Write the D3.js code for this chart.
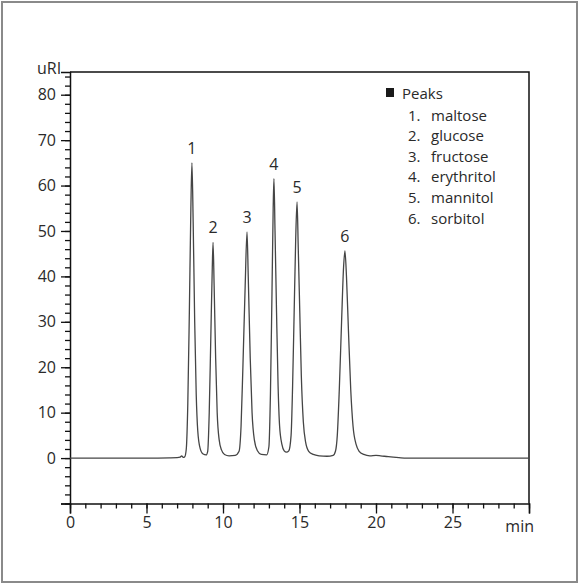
<!DOCTYPE html>
<html>
<head>
<meta charset="utf-8">
<script src="https://cdn.jsdelivr.net/npm/d3@7"></script>
<style>
  body { margin: 0; background: #fff; }
  svg text { font-family: "Open Sans", "Noto Sans", sans-serif; fill: #2a2a2a; }
</style>
</head>
<body>
<div id="chart"></div>
<script>
// trace: [time (min), signal (uRI)]
var trace = [
  [0, 0], [5, 0], [6.5, 0.05], [7.0, 0.1], [7.2, 0.2], [7.3, 0.5], [7.4, 0.15],
  [7.5, 0.3], [7.6, 2], [7.7, 12], [7.8, 32], [7.9, 55], [7.97, 65],
  [8.05, 52], [8.15, 30], [8.25, 14], [8.35, 6], [8.5, 2.2], [8.7, 0.9], [8.9, 0.7],
  [9.0, 1.5], [9.1, 10], [9.2, 26], [9.3, 42], [9.35, 47.5],
  [9.42, 38], [9.52, 22], [9.62, 10], [9.75, 4], [9.9, 1.8], [10.1, 0.8], [10.4, 0.5], [10.8, 0.6],
  [11.05, 1.5], [11.18, 7], [11.3, 20], [11.45, 38], [11.57, 49.8],
  [11.65, 40], [11.78, 22], [11.9, 10], [12.05, 4], [12.25, 1.6], [12.5, 0.8], [12.85, 0.7],
  [13.0, 2.5], [13.1, 14], [13.2, 36], [13.28, 55], [13.33, 61.5],
  [13.4, 50], [13.5, 32], [13.6, 16], [13.7, 7], [13.85, 3], [14.0, 1.6], [14.15, 1.3],
  [14.3, 1.6], [14.45, 5], [14.55, 16], [14.65, 32], [14.75, 48], [14.84, 56.4],
  [14.92, 46], [15.02, 32], [15.12, 18], [15.25, 8], [15.4, 3.5], [15.6, 1.5], [15.9, 0.8],
  [16.3, 0.5], [16.8, 0.4], [17.2, 0.6],
  [17.35, 1.5], [17.47, 5], [17.6, 15], [17.75, 30], [17.88, 42], [17.97, 45.6],
  [18.07, 40], [18.2, 28], [18.35, 15], [18.5, 7], [18.7, 3], [18.9, 1.5], [19.2, 0.8],
  [19.6, 0.5], [20.0, 0.6], [20.3, 0.5], [20.8, 0.3], [21.5, 0.1], [22, 0], [30, 0]
];

var peak_ids = ["1", "2", "3", "4", "5", "6"];
var peak_times = [7.97, 9.35, 11.57, 13.33, 14.84, 17.97];
var peak_heights = [65, 47.5, 49.8, 61.5, 56.4, 45.6];
var peak_names = ["maltose", "glucose", "fructose", "erythritol", "mannitol", "sorbitol"];

var x_ticks = [0, 5, 10, 15, 20, 25];
var y_ticks = [0, 10, 20, 30, 40, 50, 60, 70, 80];

var svg_width = 580;
var svg_height = 585;
var plot = { left: 70, right: 529, top: 72, bottom: 503.5 };

var svg = d3.select("#chart").append("svg")
  .attr("width", svg_width)
  .attr("height", svg_height);

// outer frame
svg.append("rect")
  .attr("x", 2).attr("y", 2)
  .attr("width", 575).attr("height", 580)
  .attr("fill", "none")
  .attr("stroke", "#8a8a8a")
  .attr("stroke-width", 2);

var x_scale = d3.scaleLinear().domain([0, 30]).range([plot.left, plot.right]);
var y_scale = d3.scaleLinear().domain([-10, 85]).range([plot.bottom, plot.top]);

// plot box (top and right sides)
svg.append("path")
  .attr("d", `M${plot.left},${plot.top}H${plot.right}V${plot.bottom}`)
  .attr("fill", "none")
  .attr("stroke", "#111")
  .attr("stroke-width", 1.5);

// minor ticks
var x_minor = d3.axisBottom(x_scale).tickValues(d3.range(0, 31, 1)).tickSize(5).tickFormat("");
var y_minor = d3.axisLeft(y_scale).tickValues(d3.range(-10, 86, 2)).tickSize(5).tickFormat("");

svg.append("g").attr("transform", `translate(0, ${plot.bottom})`).call(x_minor)
  .call(g => g.select(".domain").remove());
svg.append("g").attr("transform", `translate(${plot.left}, 0)`).call(y_minor)
  .call(g => g.select(".domain").remove());

// major ticks
var x_axis = d3.axisBottom(x_scale).tickValues(x_ticks.concat([30])).tickSize(10).tickPadding(3)
  .tickFormat(d => d === 30 ? "" : d);
var y_axis = d3.axisLeft(y_scale).tickValues(y_ticks.concat([-10])).tickSize(9).tickPadding(5)
  .tickFormat(d => d === -10 ? "" : d);

var gx = svg.append("g").attr("transform", `translate(0, ${plot.bottom})`).call(x_axis);
var gy = svg.append("g").attr("transform", `translate(${plot.left}, 0)`).call(y_axis);

[gx, gy].forEach(function(g) {
  g.select(".domain").attr("stroke", "#111").attr("stroke-width", 1.5);
  g.selectAll("text").style("font-size", "16px").attr("fill", "#2a2a2a");
});
svg.selectAll("line").attr("stroke", "#111").attr("stroke-width", 1.3);

// axis titles
svg.append("text").attr("x", 37).attr("y", 74).style("font-size", "16px").text("uRI");
svg.append("text").attr("x", 534).attr("y", 532).attr("text-anchor", "end")
  .style("font-size", "16px").text("min");

// chromatogram
var line = d3.line()
  .x(function(d) { return x_scale(d[0]); })
  .y(function(d) { return y_scale(d[1]); })
  .curve(d3.curveMonotoneX);

svg.append("path")
  .datum(trace)
  .attr("fill", "none")
  .attr("stroke", "#454545")
  .attr("stroke-width", 1.3)
  .attr("stroke-linejoin", "round")
  .attr("d", line);

// peak numbers
svg.selectAll(".peak-label")
  .data(peak_ids)
  .enter().append("text")
  .attr("class", "peak-label")
  .attr("x", (d, i) => x_scale(peak_times[i]))
  .attr("y", (d, i) => y_scale(peak_heights[i]) - 9)
  .attr("text-anchor", "middle")
  .style("font-size", "16px")
  .text(d => d);

// legend
var legend = svg.append("g").attr("transform", "translate(386, 0)");
legend.append("rect")
  .attr("x", 0).attr("y", 88)
  .attr("width", 8).attr("height", 9)
  .attr("fill", "#1a1a1a");
legend.append("text").attr("x", 16).attr("y", 98.5).style("font-size", "15px").text("Peaks");
var items = legend.selectAll(".item")
  .data(peak_names)
  .enter().append("text")
  .attr("class", "item")
  .attr("y", (d, i) => 120.5 + i * 20.6)
  .style("font-size", "15px");
items.append("tspan").attr("x", 22).text((d, i) => peak_ids[i] + ".");
items.append("tspan").attr("x", 45).text(d => d);
</script>
</body>
</html>
